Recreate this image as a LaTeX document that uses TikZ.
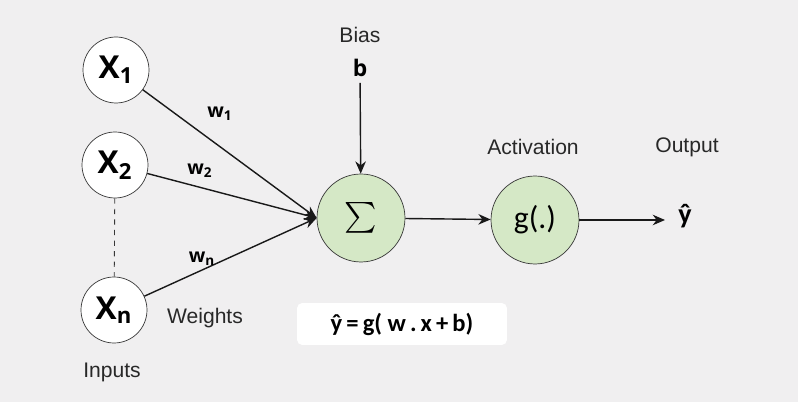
\documentclass[tikz,border=0pt]{standalone}
\usepackage{fontspec}
\setmainfont{Liberation Sans}
\newfontfamily\pesofont{Open Sans}
\newfontfamily\califont{Carlito}
\usetikzlibrary{arrows.meta, positioning}
\definecolor{sfondo}{RGB}{240,239,240}
\definecolor{verde}{RGB}{213,232,198}
\definecolor{bordo}{RGB}{55,55,55}
\definecolor{testo}{RGB}{40,40,40}

\begin{document}
\begin{tikzpicture}[x=0.02cm, y=0.02cm, >={Stealth[length=7pt, width=6pt]},
  ingresso/.style={circle, draw=bordo, fill=white, minimum size=1.32cm, inner sep=0pt,
    font=\pesofont\bfseries\fontsize{18}{20}\selectfont},
  somma/.style={circle, draw=bordo, fill=verde, minimum size=1.76cm, inner sep=0pt},
  etichetta/.style={text=testo, font=\fontsize{12}{14}\selectfont},
  peso/.style={font=\pesofont\bfseries\fontsize{11}{13}\selectfont},
  freccia/.style={->, line width=0.8pt, draw=black!90}]

  % Sfondo
  \fill[sfondo] (0,0) rectangle (798,402);

  % Ingressi
  \node[ingresso] (x1) at (116,332) {X\textsubscript{1}};
  \node[ingresso] (x2) at (115,237) {X\textsubscript{2}};
  \node[ingresso] (xn) at (114,92) {X\textsubscript{n}};
  \draw[dashed, bordo, line width=0.5pt] (x2) -- (xn);

  % Somma e attivazione
  \node[somma] (sum) at (361,184) {\scalebox{1.75}{$\sum$}};
  \node[somma] (act) at (535,182) {\califont\fontsize{18}{22}\selectfont g(.)};
  \node[font=\califont\bfseries\fontsize{16}{18}\selectfont] (yhat) at (685,186) {ŷ};
  \coordinate (fine) at (665,182);

  % Pesi
  \draw[freccia] (x1) -- (sum.west);
  \draw[freccia] (x2) -- (sum.west);
  \draw[freccia] (xn) -- (sum.west);
  \node[peso] (w1) at (220,288) {w\textsubscript{1}};
  \node[peso] (w2) at (200,231) {w\textsubscript{2}};
  \node[peso] (wn) at (202,143) {w\textsubscript{n}};

  % Bias
  \node[etichetta] (bias) at (360,367) {Bias};
  \node[font=\pesofont\bfseries\fontsize{13}{15}\selectfont] (b) at (360,334) {b};
  \draw[freccia] (b) -- (sum);

  % Uscita
  \draw[freccia] (sum) -- (act);
  \draw[freccia] (act) -- (fine);

  % Etichette
  \node[etichetta] (activation) at (533,255) {Activation};
  \node[etichetta] (output) at (687,255) {Output};
  \node[etichetta] (weights) at (205,84) {Weights};
  \node[etichetta] (inputs) at (112,30) {Inputs};

  % Formula
  \node[fill=white, rounded corners=3pt, minimum width=4.2cm, minimum height=0.84cm,
    font=\califont\bfseries\fontsize{14}{17}\selectfont] (formula) at (402,78)
    {ŷ\,=\,g( w\,.\,x\,+\,b)};
\end{tikzpicture}
\end{document}
